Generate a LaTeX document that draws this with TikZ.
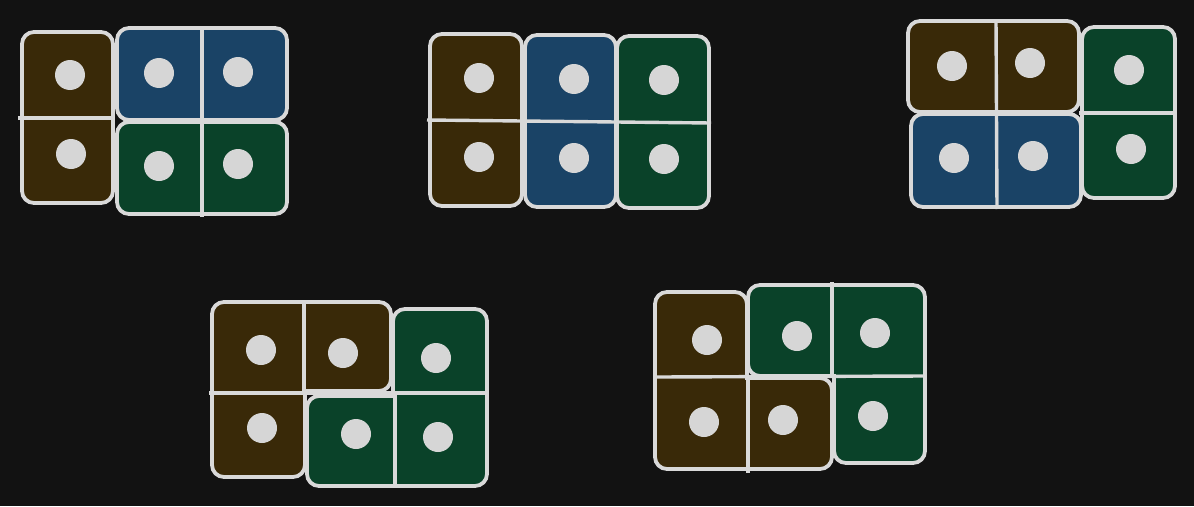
\documentclass[tikz,border=0pt]{standalone}
\definecolor{bgc}{HTML}{121212}
\definecolor{brn}{HTML}{392908}
\definecolor{blu}{HTML}{1A4366}
\definecolor{grn}{HTML}{0A4229}
\definecolor{edge}{HTML}{D9D9D9}
\definecolor{pipc}{HTML}{D6D6D6}
\begin{document}
\begin{tikzpicture}[x=1pt,y=-1pt,
  tile/.style={draw=edge,line width=3.8pt,rounded corners=12pt,line cap=rect},
  divline/.style={draw=edge,line width=3.4pt},
  pip/.style={circle,fill=pipc,inner sep=0pt,minimum size=30pt}]
\fill[bgc] (0,0) rectangle (1194,506);
\useasboundingbox (0,0) rectangle (1194,506);
% ---------- group 1 ----------
\path[tile,fill=brn] (22,32) rectangle (113,203);
\path[tile,fill=blu] (117,28) rectangle (287,120);
\path[tile,fill=grn] (117,122) rectangle (287,214);
\draw[divline] (18,118) -- (115,118);
\draw[divline] (202,27) -- (202,217);
\node[pip] (a1) at (70,75) {};
\node[pip] (a2) at (71,154) {};
\node[pip] (a3) at (159,73) {};
\node[pip] (a4) at (238,72) {};
\node[pip] (a5) at (159,166) {};
\node[pip] (a6) at (238,164) {};
% ---------- group 2 ----------
\path[tile,fill=brn] (430,34) rectangle (522,206);
\path[tile,fill=blu] (525,35) rectangle (616,207);
\path[tile,fill=grn] (617,36) rectangle (709,208);
\draw[divline] (427,120) -- (711,123);
\node[pip] (b1) at (479,78) {};
\node[pip] (b2) at (479,157) {};
\node[pip] (b3) at (574,79) {};
\node[pip] (b4) at (574,158) {};
\node[pip] (b5) at (664,80) {};
\node[pip] (b6) at (664,159) {};
% ---------- group 3 ----------
\path[tile,fill=brn] (908,21) rectangle (1079,112);
\path[tile,fill=blu] (911,114) rectangle (1081,207);
\path[tile,fill=grn] (1082,27) rectangle (1175,198);
\draw[divline] (996,20) -- (997,209);
\draw[divline] (1079,113) -- (1176,113);
\node[pip] (c1) at (952,66) {};
\node[pip] (c2) at (1030,63) {};
\node[pip] (c3) at (954,158) {};
\node[pip] (c4) at (1033,156) {};
\node[pip] (c5) at (1129,70) {};
\node[pip] (c6) at (1131,149) {};
% ---------- group 4 ----------
\path[tile,fill=brn] (305,391) -- (305,477) -- (212,477) -- (212,302) -- (391,302) -- (391,391) -- (305,391);
\path[tile,fill=grn] (393,396) -- (393,309) -- (487,309) -- (487,486) -- (307,486) -- (307,396) -- (393,396);
\draw[divline] (209,393) -- (489,393);
\draw[divline] (304,301) -- (304,392);
\draw[divline] (395,394) -- (395,487);
\node[pip] (d1) at (261,350) {};
\node[pip] (d2) at (343,353) {};
\node[pip] (d3) at (436,358) {};
\node[pip] (d4) at (262,428) {};
\node[pip] (d5) at (356,434) {};
\node[pip] (d6) at (438,437) {};
% ---------- group 5 ----------
\path[tile,fill=brn] (747,378) -- (832,378) -- (832,469) -- (655,469) -- (655,292) -- (747,292) -- (747,378);
\path[tile,fill=grn] (834,376) -- (834,463) -- (925,463) -- (925,285) -- (748,285) -- (748,376) -- (834,376);
\draw[divline] (657,377) -- (925,376);
\draw[divline] (832,282) -- (832,376);
\draw[divline] (748,378) -- (748,473);
\node[pip] (e1) at (707,340) {};
\node[pip] (e2) at (797,336) {};
\node[pip] (e3) at (875,333) {};
\node[pip] (e4) at (704,422) {};
\node[pip] (e5) at (783,420) {};
\node[pip] (e6) at (873,416) {};
\end{tikzpicture}
\end{document}
